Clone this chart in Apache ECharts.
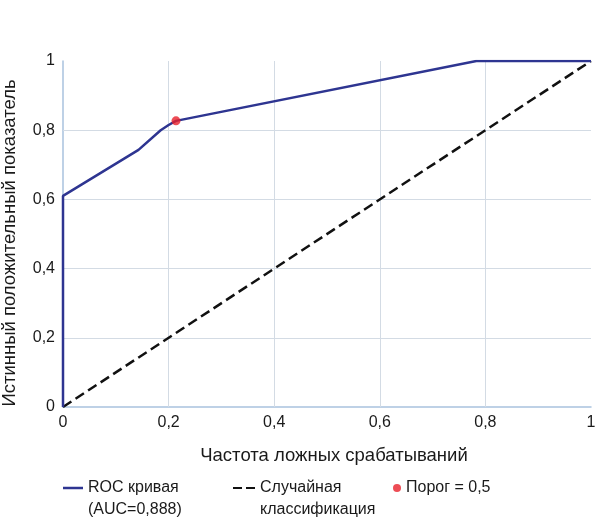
<!DOCTYPE html>
<html>
<head>
<meta charset="utf-8">
<script src="https://cdn.jsdelivr.net/npm/echarts@6/dist/echarts.min.js"></script>
<style>html,body{margin:0;padding:0;background:#fff}#c{width:603px;height:518px}</style>
</head>
<body>
<div id="c"></div>
<script>
// Data
var rocX = [0, 0, 0.143, 0.185, 0.2, 0.214, 0.783, 1];
var rocY = [0, 0.61, 0.743, 0.80, 0.815, 0.827, 1, 1];
var randomX = [0, 1];
var randomY = [0, 1];
var thresholdPoint = [0.214, 0.827];
var gridValues = [0.2, 0.4, 0.6, 0.8];

var names = {
  roc: 'ROC кривая\n(AUC=0,888)',
  rnd: 'Случайная\nклассификация',
  thr: 'Порог = 0,5',
  x: 'Частота ложных срабатываний',
  y: 'Истинный положительный показатель'
};

function fmt(v) { return String(+v.toFixed(1)).replace('.', ','); }

var FONT = 'Liberation Sans';
var gridLineStyle = { color: '#d3dbe4', width: 1, type: 'solid' };
var markData = [];
gridValues.forEach(function (v) { markData.push({ xAxis: v }); markData.push({ yAxis: v }); });

var legendText = { fontSize: 16, color: '#1a1a1a', lineHeight: 22, fontFamily: FONT };
// leading blank line so the first text line sits level with the icon
function topAligned(name) { return ' \n' + name; }

var chart = echarts.init(document.getElementById('c'));
chart.setOption({
  animation: false,
  textStyle: { fontFamily: FONT },
  grid: { left: 63, right: 12, top: 61, bottom: 111, outerBoundsMode: 'none', containLabel: false },
  xAxis: {
    type: 'value', min: 0, max: 1, interval: 0.2,
    name: names.x, nameLocation: 'middle', nameGap: 39,
    nameTextStyle: { fontSize: 18.5, color: '#1a1a1a', fontFamily: FONT, padding: [0, 0, 0, 14] },
    axisLine: { show: true, lineStyle: { color: '#a9c2de', width: 1.5 } },
    axisTick: { show: false },
    splitLine: { show: false },
    axisLabel: { fontSize: 16, color: '#1a1a1a', margin: 8, formatter: fmt, fontFamily: FONT }
  },
  yAxis: {
    type: 'value', min: 0, max: 1, interval: 0.2,
    name: names.y, nameLocation: 'middle', nameGap: 44,
    nameTextStyle: { fontSize: 18.5, color: '#1a1a1a', fontFamily: FONT, padding: [0, 18, 0, 0] },
    axisLine: { show: true, lineStyle: { color: '#a9c2de', width: 1.5 } },
    axisTick: { show: false },
    splitLine: { show: false },
    axisLabel: { fontSize: 16, color: '#1a1a1a', margin: 8, formatter: fmt, fontFamily: FONT }
  },
  legend: [
    {
      data: [{ name: names.roc, icon: 'rect' }], left: 63, top: 455, padding: 0,
      itemWidth: 20, itemHeight: 2.5, itemGap: 0,
      itemStyle: { color: '#2e3591' },
      formatter: topAligned,
      textStyle: legendText
    },
    {
      data: [{ name: names.rnd, icon: 'path://M0,0h9v2h-9z M13,0h9v2h-9z' }], left: 233, top: 455, padding: 0,
      itemWidth: 22, itemHeight: 2.5, itemGap: 0,
      itemStyle: { color: '#111111' },
      formatter: topAligned,
      textStyle: legendText
    },
    {
      data: [{ name: names.thr, icon: 'circle' }], left: 393, top: 477, padding: 0,
      itemWidth: 8, itemHeight: 8, itemGap: 0,
      textStyle: legendText
    }
  ],
  series: [
    {
      name: names.rnd, type: 'line', showSymbol: false, symbol: 'none',
      data: randomX.map(function (x, i) { return [x, randomY[i]]; }),
      lineStyle: { color: '#111111', width: 2.5, type: [10, 5] },
      itemStyle: { color: '#111111' },
      z: 3,
      markLine: {
        silent: true, symbol: 'none', label: { show: false },
        lineStyle: gridLineStyle, data: markData, z: 1
      }
    },
    {
      name: names.roc, type: 'line', showSymbol: false, symbol: 'none',
      data: rocX.map(function (x, i) { return [x, rocY[i]]; }),
      lineStyle: { color: '#2e3591', width: 2.5 },
      itemStyle: { color: '#2e3591' },
      z: 4
    },
    {
      name: names.thr, type: 'scatter', symbol: 'circle', symbolSize: 9,
      data: [thresholdPoint],
      itemStyle: { color: '#e8202a' },
      z: 5
    }
  ]
});
</script>
</body>
</html>
